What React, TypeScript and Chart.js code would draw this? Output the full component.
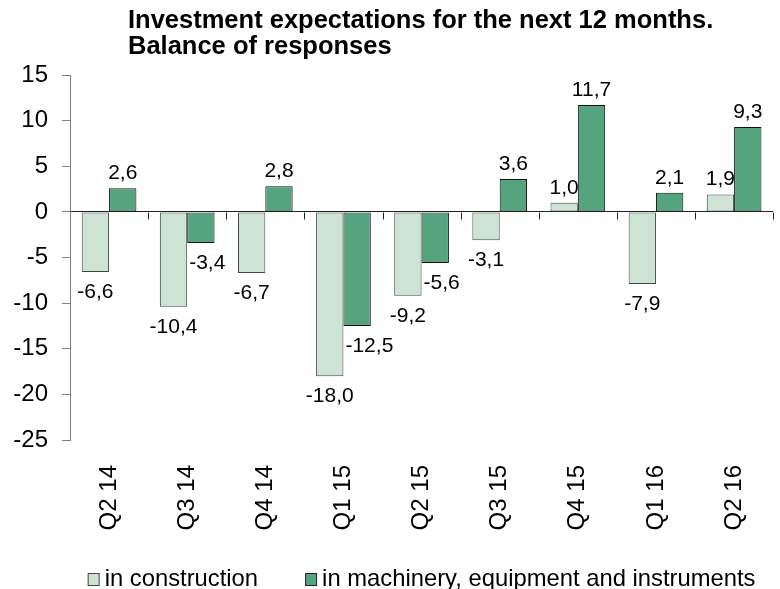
import React, { useEffect, useRef } from "react";
import { Chart, registerables } from "chart.js";

Chart.register(...registerables);

const categories = ["Q2 14", "Q3 14", "Q4 14", "Q1 15", "Q2 15", "Q3 15", "Q4 15", "Q1 16", "Q2 16"];
const construction = [-6.6, -10.4, -6.7, -18.0, -9.2, -3.1, 1.0, -7.9, 1.9];
const machinery = [2.6, -3.4, 2.8, -12.5, -5.6, 3.6, 11.7, 2.1, 9.3];
const seriesNames = ["in construction", "in machinery, equipment and instruments"];
const yTicks = [15, 10, 5, 0, -5, -10, -15, -20, -25];
const titleLines = ["Investment expectations for the next 12 months.", "Balance of responses"];

const FONT = "'Liberation Sans', Arial, Helvetica, sans-serif";
const LIGHT = "#cde3d4";
const DARK = "#56a47e";
const fmt = (v: number) => v.toFixed(1).replace(".", ",");

const zeroTicksPlugin = {
  id: "zeroTicks",
  afterDatasetsDraw(chart: any) {
    const { ctx, scales } = chart;
    const xs = scales.x;
    const y0 = Math.round(scales.y.getPixelForValue(0)) + 0.5;
    ctx.save();
    ctx.strokeStyle = "#222";
    ctx.lineWidth = 1;
    ctx.beginPath();
    for (let i = 1; i <= categories.length; i++) {
      const x = Math.round(xs.getPixelForValue(i - 0.5)) + 0.5;
      ctx.moveTo(x, y0);
      ctx.lineTo(x, y0 + 7);
    }
    ctx.stroke();
    ctx.restore();
  },
};

const valueLabelsPlugin = {
  id: "valueLabels",
  afterDatasetsDraw(chart: any) {
    const { ctx } = chart;
    ctx.save();
    ctx.font = `21px ${FONT}`;
    ctx.fillStyle = "#000";
    ctx.textBaseline = "middle";
    chart.data.datasets.forEach((ds: any, di: number) => {
      const meta = chart.getDatasetMeta(di);
      meta.data.forEach((bar: any, i: number) => {
        const v = ds.data[i] as number;
        const { x, y, width } = bar.getProps(["x", "y", "width"], true);
        const text = fmt(v);
        if (v >= 0) {
          ctx.textAlign = "center";
          ctx.fillText(text, x, y - 15);
        } else {
          let tx = x;
          ctx.textAlign = "center";
          if (di === 1 && construction[i] < v) {
            ctx.textAlign = "left";
            tx = x - width / 2 + 2;
          }
          ctx.fillText(text, tx, y + 20);
        }
      });
    });
    ctx.restore();
  },
};

const titleLegendPlugin = {
  id: "titleLegend",
  afterDraw(chart: any) {
    const { ctx, chartArea } = chart;
    ctx.save();
    // title
    ctx.fillStyle = "#000";
    ctx.font = `bold 25.5px ${FONT}`;
    ctx.textAlign = "left";
    ctx.textBaseline = "alphabetic";
    ctx.fillText(titleLines[0], 128, 28);
    ctx.fillText(titleLines[1], 128, 54);
    // legend
    ctx.font = `23.8px ${FONT}`;
    const box = 11;
    const gap = 6;
    const itemGap = 47;
    const colors = [LIGHT, DARK];
    const borders = ["#444", "#222"];
    const widths = seriesNames.map((n) => box + gap + ctx.measureText(n).width);
    const total = widths.reduce((a, b) => a + b, 0) + itemGap * (widths.length - 1);
    let x = (chartArea.left + chartArea.right) / 2 - total / 2;
    const cy = 579;
    ctx.textBaseline = "middle";
    seriesNames.forEach((n, i) => {
      ctx.fillStyle = colors[i];
      ctx.fillRect(x + 0.5, cy - 6 + 0.5, box, 12);
      ctx.strokeStyle = borders[i];
      ctx.lineWidth = 1;
      ctx.strokeRect(x + 0.5, cy - 6 + 0.5, box, 12);
      ctx.fillStyle = "#000";
      ctx.fillText(n, x + box + gap, cy);
      x += widths[i] + itemGap;
    });
    ctx.restore();
  },
};

export default function App() {
  const ref = useRef<HTMLCanvasElement | null>(null);

  useEffect(() => {
    if (!ref.current) return;
    const chart = new Chart(ref.current, {
      type: "bar",
      data: {
        labels: categories,
        datasets: [
          {
            label: seriesNames[0],
            data: construction,
            backgroundColor: LIGHT,
            borderColor: "#444",
            borderWidth: 1,
            borderSkipped: false,
            categoryPercentage: 0.7,
            barPercentage: 1,
          },
          {
            label: seriesNames[1],
            data: machinery,
            backgroundColor: DARK,
            borderColor: "#111",
            borderWidth: 1,
            borderSkipped: false,
            categoryPercentage: 0.7,
            barPercentage: 1,
          },
        ],
      },
      options: {
        animation: false,
        responsive: true,
        maintainAspectRatio: false,
        layout: { padding: { top: 75, right: 2, bottom: 0, left: 0 } },
        plugins: {
          legend: { display: false },
          title: { display: false },
          tooltip: { enabled: false },
        },
        scales: {
          x: {
            afterFit: (s: any) => {
              s.height = 149;
            },
            grid: { display: false },
            border: { display: false },
            ticks: {
              autoSkip: false,
              minRotation: 90,
              maxRotation: 90,
              padding: 17,
              color: "#000",
              font: { family: FONT, size: 24 },
            },
          },
          y: {
            min: -25,
            max: 15,
            afterFit: (s: any) => {
              s.width = 70;
            },
            afterBuildTicks: (s: any) => {
              s.ticks = yTicks.map((v) => ({ value: v }));
            },
            grid: {
              drawOnChartArea: true,
              color: (c: any) => (c.tick && c.tick.value === 0 ? "#222" : "rgba(0,0,0,0)"),
              tickColor: "#808080",
              tickLength: 8,
              lineWidth: 1,
            },
            border: { display: true, color: "#808080", width: 1 },
            ticks: {
              padding: 14,
              color: "#000",
              font: { family: FONT, size: 24 },
              callback: (v: any) => String(v),
            },
          },
        },
      },
      plugins: [zeroTicksPlugin, valueLabelsPlugin, titleLegendPlugin],
    });
    return () => chart.destroy();
  }, []);

  return (
    <div style={{ position: "absolute", left: 0, top: 0, width: 780, height: 589, background: "#fff" }}>
      <canvas ref={ref} />
    </div>
  );
}
